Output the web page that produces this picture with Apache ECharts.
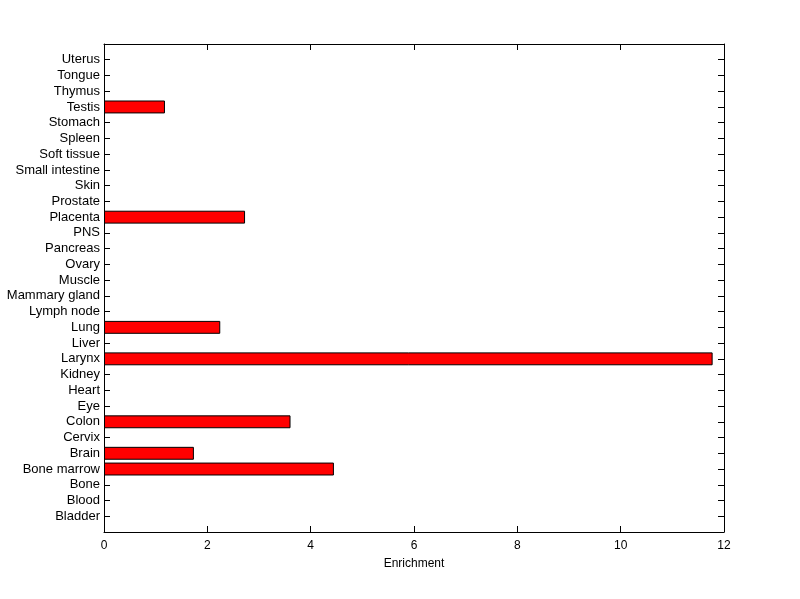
<!DOCTYPE html>
<html>
<head>
<meta charset="utf-8">
<script src="https://cdn.jsdelivr.net/npm/echarts@6/dist/echarts.min.js"></script>
<style>
  html, body { margin: 0; padding: 0; background: #fff; }
  #chart { width: 800px; height: 599px; }
</style>
</head>
<body>
<div id="chart"></div>
<script>
// tissues, bottom to top
var tissues = ['Bladder', 'Blood', 'Bone', 'Bone marrow', 'Brain', 'Cervix', 'Colon', 'Eye', 'Heart',
  'Kidney', 'Larynx', 'Liver', 'Lung', 'Lymph node', 'Mammary gland', 'Muscle', 'Ovary', 'Pancreas',
  'PNS', 'Placenta', 'Prostate', 'Skin', 'Small intestine', 'Soft tissue', 'Spleen', 'Stomach',
  'Testis', 'Thymus', 'Tongue', 'Uterus']
var enrichment = [0, 0, 0, 4.45, 1.74, 0, 3.61, 0, 0,
  0, 11.78, 0, 2.25, 0, 0, 0, 0, 0,
  0, 2.73, 0, 0, 0, 0, 0, 0,
  1.18, 0, 0, 0]
var xTicks = [0, 2, 4, 6, 8, 10, 12]

// pad one empty slot at each end (like ylim [0 31])
var cats = [''].concat(tissues, [''])
var vals = [null].concat(enrichment.map(function (v) { return v > 0 ? v : null }), [null])

var chart = echarts.init(document.getElementById('chart'))
var font = 'Liberation Sans, Arial, sans-serif'
var lineStyle = { color: '#000', width: 1 }
var tickShow = function (i) { return i > 0 && i < cats.length - 1 }

chart.setOption({
  animation: false,
  grid: { left: 104, right: 76, top: 44, bottom: 67, containLabel: false, outerBoundsMode: 'none' },
  xAxis: [{
    type: 'value',
    position: 'bottom',
    min: xTicks[0],
    max: xTicks[xTicks.length - 1],
    interval: 2,
    name: 'Enrichment',
    nameLocation: 'middle',
    nameGap: 26,
    nameTextStyle: { color: '#000', fontSize: 12, fontFamily: font },
    axisLine: { show: true, onZero: false, lineStyle: lineStyle },
    axisTick: { show: true, inside: true, length: 6, lineStyle: lineStyle },
    axisLabel: { color: '#000', fontSize: 12, fontFamily: font, margin: 8 },
    splitLine: { show: false }
  }, {
    type: 'value',
    position: 'top',
    min: xTicks[0],
    max: xTicks[xTicks.length - 1],
    interval: 2,
    axisLine: { show: true, onZero: false, lineStyle: lineStyle },
    axisTick: { show: true, inside: true, length: 6, lineStyle: lineStyle },
    axisLabel: { show: false },
    splitLine: { show: false }
  }],
  yAxis: [{
    type: 'category',
    position: 'left',
    data: cats,
    boundaryGap: false,
    axisLine: { show: true, onZero: false, lineStyle: lineStyle },
    axisTick: { show: true, inside: true, length: 6, interval: tickShow, lineStyle: lineStyle },
    axisLabel: { color: '#000', fontSize: 13, fontFamily: font, margin: 4, interval: 0 },
    splitLine: { show: false }
  }, {
    type: 'category',
    position: 'right',
    data: cats,
    boundaryGap: false,
    axisLine: { show: true, onZero: false, lineStyle: lineStyle },
    axisTick: { show: true, inside: true, length: 6, interval: tickShow, lineStyle: lineStyle },
    axisLabel: { show: false },
    splitLine: { show: false }
  }],
  series: [{
    type: 'bar',
    xAxisIndex: 0,
    yAxisIndex: 0,
    barWidth: '82%',
    itemStyle: { color: '#ff0000', borderColor: '#000', borderWidth: 1 },
    data: vals
  }]
})
</script>
</body>
</html>
